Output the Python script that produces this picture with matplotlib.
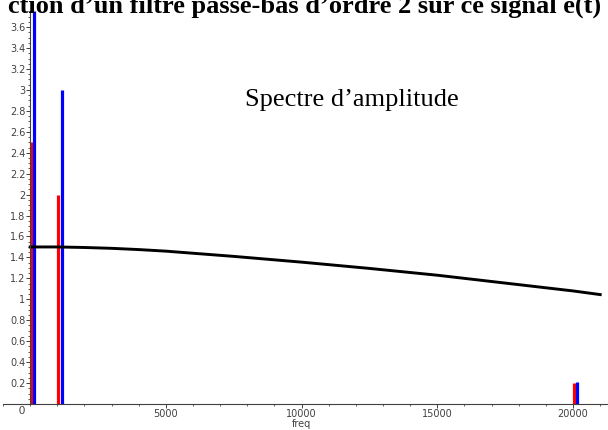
import numpy as np
import matplotlib.pyplot as plt
from matplotlib.ticker import MultipleLocator

# spectrum lines
red_f = [50, 1010, 20030]
red_a = [2.5, 2.0, 0.2]
blue_f = [160, 1160, 20140]
blue_a = [3.75, 3.0, 0.21]

# filter gain curve
curve_f = [0, 1000, 2000, 3000, 4000, 5000, 7500, 10000, 12500, 15000, 17500, 20000, 21000]
curve_a = [1.50, 1.50, 1.495, 1.487, 1.475, 1.46, 1.41, 1.355, 1.295, 1.23, 1.155, 1.08, 1.045]

W, H = 608, 430
fig = plt.figure(figsize=(W / 100, H / 100), dpi=100)
# axes box: x=-1000 at px 3, y=0 at px 404
ax = fig.add_axes([3 / W, 26 / H, 604 / W, 392.6 / H])
ax.set_xlim(-1000, 21250)
ax.set_ylim(0, 3.75)

ax.vlines(red_f, 0, red_a, colors="#ff0000", linewidth=2.3)
ax.vlines(blue_f, 0, blue_a, colors="#0000ff", linewidth=2.3)
ax.plot(curve_f, curve_a, color="black", linewidth=2.1)

for s in ["top", "right"]:
    ax.spines[s].set_visible(False)
ax.spines["left"].set_position(("data", 0))
ax.spines["bottom"].set_position(("data", 0))
for s in ["left", "bottom"]:
    ax.spines[s].set_color("#404040")
    ax.spines[s].set_linewidth(0.8)

ax.xaxis.set_minor_locator(MultipleLocator(1000))
ax.yaxis.set_minor_locator(MultipleLocator(0.05))
ax.set_xticks([5000, 10000, 15000, 20000])
ax.set_xticklabels(["5000", "10000", "15000", "20000"])
ax.set_yticks(np.arange(0.2, 3.61, 0.2))
ax.set_yticklabels(["%g" % round(v, 1) for v in np.arange(0.2, 3.61, 0.2)])
ax.tick_params(axis="both", which="major", length=3, width=0.7, color="#404040",
               labelsize=7, labelcolor="#404040", pad=0.5)
ax.tick_params(axis="both", which="minor", length=1.5, width=0.6, color="#404040")

ax.text(-300, -0.02, "0", fontsize=8, color="#404040", ha="center", va="top",
        family="Liberation Sans")
ax.text(10000, -0.19, "freq", fontsize=7, color="#404040", ha="center", va="center")

fig.text(245 / W, 1 - 100 / H, "Spectre d\u2019amplitude", fontsize=19,
         family="Liberation Serif", va="center", ha="left")
fig.text(601 / W, 1 - 13 / H, "ction d\u2019un filtre passe-bas d\u2019ordre 2 sur ce signal e(t)",
         fontsize=19, family="Liberation Serif", weight="bold", ha="right", va="baseline")

fig.savefig("out.png", dpi=100)
